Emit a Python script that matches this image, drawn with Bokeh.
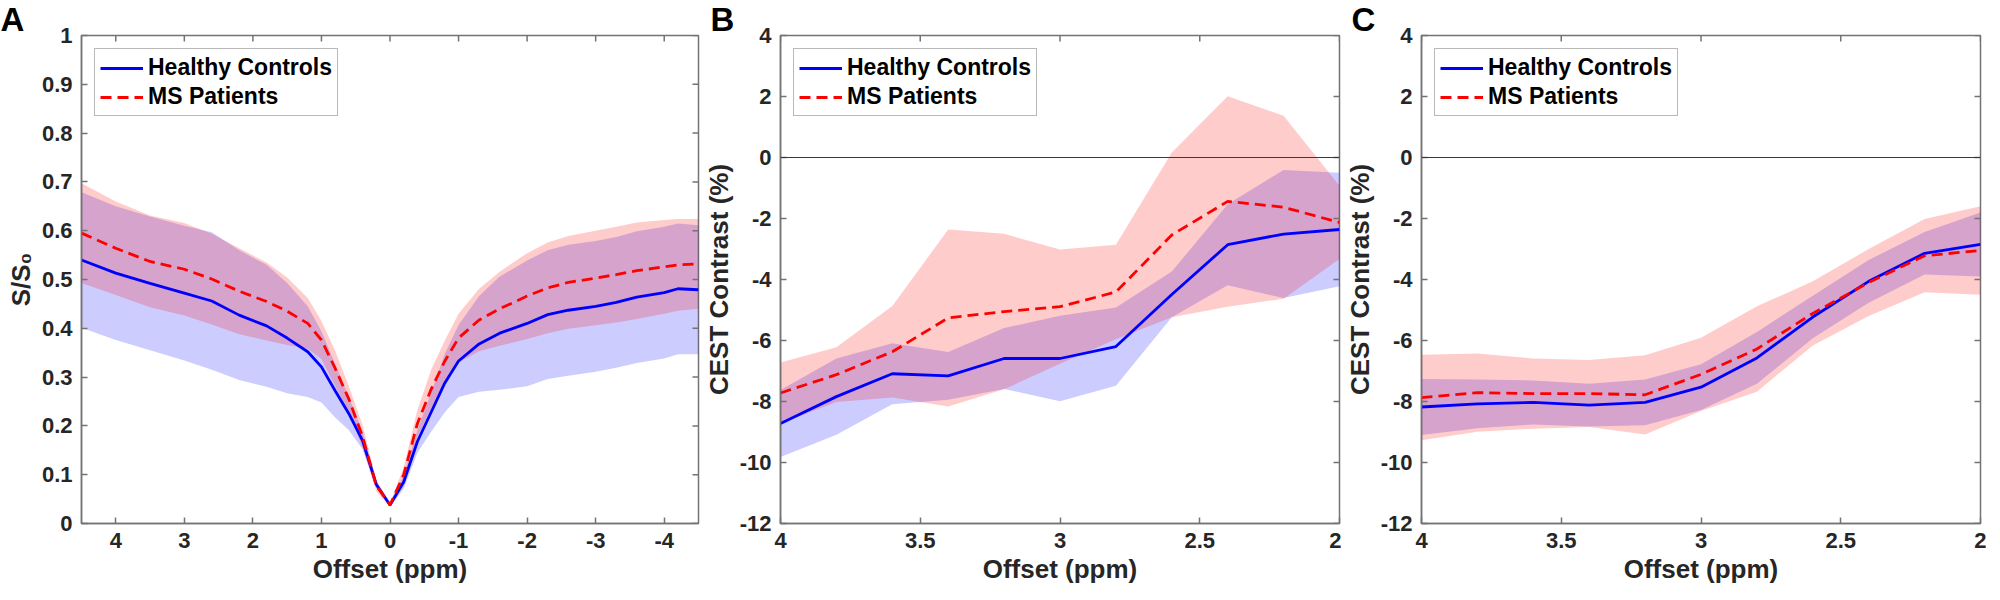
import numpy as np
from bokeh.plotting import figure
from bokeh.models import Range1d, Legend, LegendItem, Span, FixedTicker
from bokeh.layouts import row
from bokeh.embed import file_html
from bokeh.resources import INLINE

# ---------------- data ----------------
# Panel A: Z-spectra (S/S0)
offset_a = [4.5, 4.0, 3.5, 3.0, 2.6, 2.2, 1.8, 1.5, 1.2, 1.0, 0.8, 0.6, 0.4, 0.2, 0.0,
            -0.2, -0.4, -0.6, -0.8, -1.0, -1.3, -1.6, -2.0, -2.3, -2.6, -3.0, -3.3,
            -3.6, -4.0, -4.2, -4.5]
hc_a_mean = [0.540, 0.513, 0.492, 0.472, 0.456, 0.427, 0.405, 0.380, 0.352, 0.321,
             0.272, 0.225, 0.170, 0.080, 0.038, 0.085, 0.168, 0.228, 0.288, 0.333,
             0.368, 0.390, 0.410, 0.428, 0.437, 0.445, 0.453, 0.464, 0.473, 0.481, 0.479]
hc_a_sd = [0.139, 0.137, 0.137, 0.138, 0.141, 0.133, 0.125, 0.113, 0.093, 0.073,
           0.055, 0.034, 0.018, 0.006, 0.004, 0.014, 0.023, 0.040, 0.060, 0.074,
           0.098, 0.116, 0.129, 0.132, 0.134, 0.134, 0.134, 0.135, 0.135, 0.134, 0.132]
ms_a_mean = [0.595, 0.564, 0.537, 0.521, 0.501, 0.476, 0.455, 0.435, 0.410, 0.376,
             0.318, 0.255, 0.178, 0.078, 0.038, 0.100, 0.205, 0.275, 0.333, 0.380,
             0.417, 0.440, 0.466, 0.483, 0.494, 0.503, 0.510, 0.518, 0.526, 0.530, 0.532]
ms_a_sd = [0.102, 0.096, 0.094, 0.095, 0.093, 0.088, 0.080, 0.069, 0.052, 0.039,
           0.036, 0.026, 0.024, 0.012, 0.004, 0.016, 0.028, 0.040, 0.042, 0.050,
           0.064, 0.076, 0.088, 0.093, 0.095, 0.097, 0.098, 0.099, 0.096, 0.094, 0.092]

# Panel B: CEST contrast (%)
offset_b = [4.0, 3.8, 3.6, 3.4, 3.2, 3.0, 2.8, 2.6, 2.4, 2.2, 2.0]
hc_b_mean = [-8.72, -7.84, -7.09, -7.16, -6.59, -6.59, -6.20, -4.49, -2.86, -2.51, -2.36]
hc_b_sd = [1.10, 1.25, 1.00, 0.78, 1.00, 1.40, 1.28, 0.75, 1.33, 2.10, 1.86]
ms_b_mean = [-7.72, -7.12, -6.37, -5.26, -5.05, -4.89, -4.41, -2.54, -1.44, -1.63, -2.13]
ms_b_sd = [1.00, 0.90, 1.50, 2.90, 2.55, 1.87, 1.55, 2.70, 3.45, 3.00, 1.20]

# Panel C: CEST contrast (%)
offset_c = [4.0, 3.8, 3.6, 3.4, 3.2, 3.0, 2.8, 2.6, 2.4, 2.2, 2.0]
hc_c_mean = [-8.18, -8.08, -8.03, -8.12, -8.03, -7.53, -6.57, -5.23, -4.06, -3.14, -2.85]
hc_c_sd = [0.92, 0.80, 0.72, 0.70, 0.75, 0.75, 0.85, 0.70, 0.70, 0.70, 1.05]
ms_c_mean = [-7.87, -7.71, -7.74, -7.74, -7.78, -7.11, -6.28, -5.11, -4.10, -3.22, -3.05]
ms_c_sd = [1.40, 1.28, 1.15, 1.10, 1.30, 1.20, 1.40, 1.05, 1.10, 1.20, 1.45]

ticks_a_x = [4, 3, 2, 1, 0, -1, -2, -3, -4]
labels_a_x = ["4", "3", "2", "1", "0", "-1", "-2", "-3", "-4"]
ticks_a_y = [0, 0.1, 0.2, 0.3, 0.4, 0.5, 0.6, 0.7, 0.8, 0.9, 1.0]
labels_a_y = ["0", "0.1", "0.2", "0.3", "0.4", "0.5", "0.6", "0.7", "0.8", "0.9", "1"]
ticks_bc_x = [4, 3.5, 3, 2.5, 2]
labels_bc_x = ["4", "3.5", "3", "2.5", "2"]
ticks_bc_y = [-12, -10, -8, -6, -4, -2, 0, 2, 4]
labels_bc_y = ["-12", "-10", "-8", "-6", "-4", "-2", "0", "2", "4"]

series_names = ["Healthy Controls", "MS Patients"]

# ---------------- style ----------------
FONT = "Liberation Sans"
AXC = "#737373"
TXT = "#262626"
BLUE = "#0000ff"
RED = "#ff0000"
FH = 488
TICK_PX = 6


def style_axis(ax, ticks, labels, label):
    ax.ticker = FixedTicker(ticks=ticks)
    ax.major_label_overrides = dict(zip(ticks, labels))
    ax.major_tick_in = TICK_PX
    ax.major_tick_out = 0
    ax.minor_tick_line_color = None
    ax.axis_line_color = AXC
    ax.axis_line_width = 1.5
    ax.major_tick_line_color = AXC
    ax.major_tick_line_width = 1.5
    ax.major_label_text_font = FONT
    ax.major_label_text_font_style = "bold"
    ax.major_label_text_font_size = "22px"
    ax.major_label_text_color = TXT
    ax.major_label_standoff = 9
    ax.axis_label = label
    ax.axis_label_text_font = FONT
    ax.axis_label_text_font_style = "bold"
    ax.axis_label_text_font_size = "26px"
    ax.axis_label_text_color = TXT
    ax.axis_label_standoff = 3


def build(x, hc_m, hc_s, ms_m, ms_s, xr, yr, xt, xl, yt, yl, ylabel,
          letter, letter_dx, bl, br, fw, zero_line):
    p = figure(frame_width=fw, frame_height=FH,
               x_range=Range1d(*xr), y_range=Range1d(*yr),
               output_backend="svg", toolbar_location=None,
               min_border_left=bl, min_border_right=br,
               min_border_top=35, min_border_bottom=61)
    p.xgrid.visible = False
    p.ygrid.visible = False
    p.outline_line_color = AXC
    p.outline_line_width = 1.5
    p.background_fill_color = "white"
    p.border_fill_color = "white"

    # panel letter as a left-shifted title
    p.title.text = letter
    p.title.align = "left"
    p.title.offset = letter_dx
    p.title.text_font = FONT
    p.title.text_font_style = "bold"
    p.title.text_font_size = "33px"
    p.title.text_color = "black"
    p.title.standoff = -4
    p.title.text_line_height = 0.8

    xa = np.array(x, dtype=float)
    hm, hs = np.array(hc_m), np.array(hc_s)
    mm, msd = np.array(ms_m), np.array(ms_s)

    p.varea(x=xa, y1=hm - hs, y2=hm + hs, fill_color=BLUE, fill_alpha=0.2)
    p.varea(x=xa, y1=mm - msd, y2=mm + msd, fill_color=RED, fill_alpha=0.2)
    if zero_line:
        p.add_layout(Span(location=0, dimension="width", line_color="#3a3a3a",
                          line_width=1.2))
    l1 = p.line(xa, hm, line_color=BLUE, line_width=2.8)
    l2 = p.line(xa, mm, line_color=RED, line_width=2.8, line_dash="11 6")

    style_axis(p.xaxis[0], xt, xl, "Offset (ppm)")
    style_axis(p.yaxis[0], yt, yl, ylabel)

    # mirrored inward ticks on the top and right edges of the box
    dy = (yr[1] - yr[0]) * TICK_PX / FH
    dx = (xr[0] - xr[1]) * TICK_PX / fw
    p.segment(x0=xt, y0=[yr[1]] * len(xt), x1=xt, y1=[yr[1] - dy] * len(xt),
              line_color=AXC, line_width=1.5)
    p.segment(x0=[xr[1]] * len(yt), y0=yt, x1=[xr[1] + dx] * len(yt), y1=yt,
              line_color=AXC, line_width=1.5)

    leg = Legend(items=[LegendItem(label=series_names[0], renderers=[l1]),
                        LegendItem(label=series_names[1], renderers=[l2])],
                 location="top_left", margin=13, padding=5, spacing=2,
                 label_text_font=FONT, label_text_font_style="bold",
                 label_text_font_size="23px", label_text_color="black",
                 glyph_width=43, glyph_height=24, label_height=24,
                 label_standoff=5, border_line_color=AXC, border_line_width=1.3,
                 background_fill_color="white", background_fill_alpha=1.0)
    p.add_layout(leg)
    return p


pA = build(offset_a, hc_a_mean, hc_a_sd, ms_a_mean, ms_a_sd, (4.5, -4.5), (0, 1),
           ticks_a_x, labels_a_x, ticks_a_y, labels_a_y, "S/S\u2080",
           "A", -81, 81, 2, 617, False)
pB = build(offset_b, hc_b_mean, hc_b_sd, ms_b_mean, ms_b_sd, (4, 2), (-12, 4),
           ticks_bc_x, labels_bc_x, ticks_bc_y, labels_bc_y,
           "CEST Contrast (%)", "B", -70, 78, 2, 559, True)
pC = build(offset_c, hc_c_mean, hc_c_sd, ms_c_mean, ms_c_sd, (4, 2), (-12, 4),
           ticks_bc_x, labels_bc_x, ticks_bc_y, labels_bc_y,
           "CEST Contrast (%)", "C", -70, 80, 6, 559, True)

layout = row(pA, pB, pC, spacing=0)
open("out.html", "w").write(file_html(layout, INLINE))
